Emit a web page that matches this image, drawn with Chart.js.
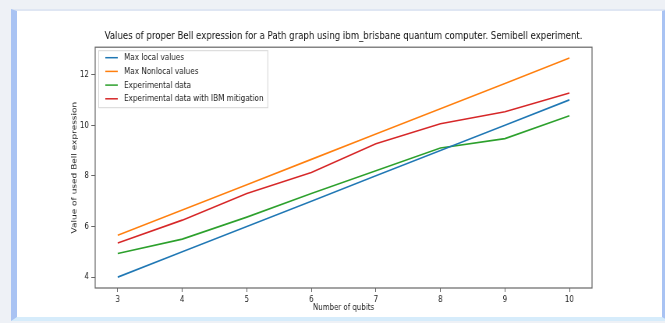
<!DOCTYPE html>
<html>
<head>
<meta charset="utf-8">
<script src="https://cdn.jsdelivr.net/npm/chart.js@4.4.1/dist/chart.umd.min.js"></script>
<style>
  html, body { margin: 0; padding: 0; background: #eef1f6; overflow: hidden; }
  #frame {
    position: absolute; left: 11px; top: 9px; width: 645px; height: 306px;
    background: #fff;
    border-left: 6px solid #a9c3f3;
    border-right: 7px solid #a9c3f3;
    border-bottom: 4px solid #d6ecfb;
    border-top: 2px solid #dfe6f3;
  }
  /* the reference picture is squeezed sideways, so draw wide and squeeze */
  #wrap { position: absolute; left: 0; top: 0; width: 853px; height: 323px;
          transform: scaleX(0.78); transform-origin: 0 0; }
</style>
</head>
<body>
<div id="frame"></div>
<div id="wrap"><canvas id="lineChart" width="853" height="323"></canvas></div>
<script>
const qubits = [3, 4, 5, 6, 7, 8, 9, 10];
const maxLocal = [4, 5, 6, 7, 8, 9, 10, 11];
const maxNonlocal = [5.65, 6.65, 7.65, 8.65, 9.65, 10.65, 11.65, 12.65];
const experimental = [4.93, 5.5, 6.37, 7.3, 8.2, 9.1, 9.47, 10.37];
const mitigated = [5.35, 6.25, 7.3, 8.13, 9.27, 10.06, 10.53, 11.27];
const yTicks = [4, 6, 8, 10, 12];

const labels = ['Max local values', 'Max Nonlocal values', 'Experimental data', 'Experimental data with IBM mitigation'];
const colors = ['#1f77b4', '#ff7f0e', '#2ca02c', '#d62728'];
const series = [maxLocal, maxNonlocal, experimental, mitigated];

const font = 'DejaVu Sans';

// matplotlib style box around plot + legend in the upper left corner
const boxPlugin = {
    id: 'box',
    afterDraw(chart) {
        const c = chart.ctx, a = chart.chartArea;
        c.save();
        c.strokeStyle = '#666';
        c.lineWidth = 1.2;
        c.strokeRect(a.left, a.top, a.right - a.left, a.bottom - a.top);

        const x0 = a.left + 4, y0 = a.top + 3, rowH = 13.7;
        c.font = '9.3px ' + font;
        let w = 0;
        chart.data.datasets.forEach(d => { w = Math.max(w, c.measureText(d.label).width); });
        c.fillStyle = 'rgba(255,255,255,0.85)';
        c.strokeStyle = '#d6d6d6';
        c.lineWidth = 1;
        c.fillRect(x0, y0, w + 38, 57);
        c.strokeRect(x0 + 0.5, y0 + 0.5, w + 38, 57);
        chart.data.datasets.forEach((d, i) => {
            const y = y0 + 7.5 + i * rowH;
            c.strokeStyle = d.borderColor;
            c.lineWidth = 1.5;
            c.beginPath(); c.moveTo(x0 + 9, y); c.lineTo(x0 + 25, y); c.stroke();
            c.fillStyle = '#222';
            c.textBaseline = 'middle';
            c.fillText(d.label, x0 + 33, y);
        });
        c.restore();
    }
};

new Chart(document.getElementById('lineChart'), {
    type: 'line',
    data: {
        datasets: series.map((s, i) => ({
            label: labels[i],
            data: qubits.map((q, j) => ({x: q, y: s[j]})),
            borderColor: colors[i],
            backgroundColor: colors[i],
            borderWidth: 1.6,
            pointRadius: 0,
            tension: 0
        }))
    },
    options: {
        responsive: false,
        animation: false,
        layout: { padding: { left: 90, right: 94, top: 30, bottom: 10 } },
        plugins: {
            legend: { display: false },
            tooltip: { enabled: false },
            title: {
                display: true,
                fullSize: false,
                text: 'Values of proper Bell expression for a Path graph using ibm_brisbane quantum computer. Semibell experiment.',
                color: '#111',
                font: { family: font, size: 11, weight: 'normal' },
                padding: { top: 0, bottom: 4 }
            }
        },
        scales: {
            x: {
                type: 'linear',
                min: 2.65, max: 10.35,
                afterBuildTicks: s => { s.ticks = qubits.map(v => ({value: v})); },
                afterFit: s => { s.height = 25; },
                grid: { drawOnChartArea: false, drawTicks: true, tickLength: 4, color: '#666' },
                border: { display: false },
                ticks: { color: '#222', padding: 2, font: { family: font, size: 9 } },
                title: { display: true, text: 'Number of qubits', color: '#222', padding: 0, font: { family: font, size: 9 } }
            },
            y: {
                min: 3.57, max: 13.08,
                afterBuildTicks: s => { s.ticks = yTicks.map(v => ({value: v})); },
                afterFit: s => { s.width = 32; },
                grid: { drawOnChartArea: false, drawTicks: true, tickLength: 5, color: '#666' },
                border: { display: false },
                ticks: { color: '#222', padding: 3, font: { family: font, size: 9 } },
                title: { display: true, text: 'Value of used Bell expression', color: '#222', padding: 0, font: { family: font, size: 9 } }
            }
        }
    },
    plugins: [boxPlugin]
});
</script>
</body>
</html>
